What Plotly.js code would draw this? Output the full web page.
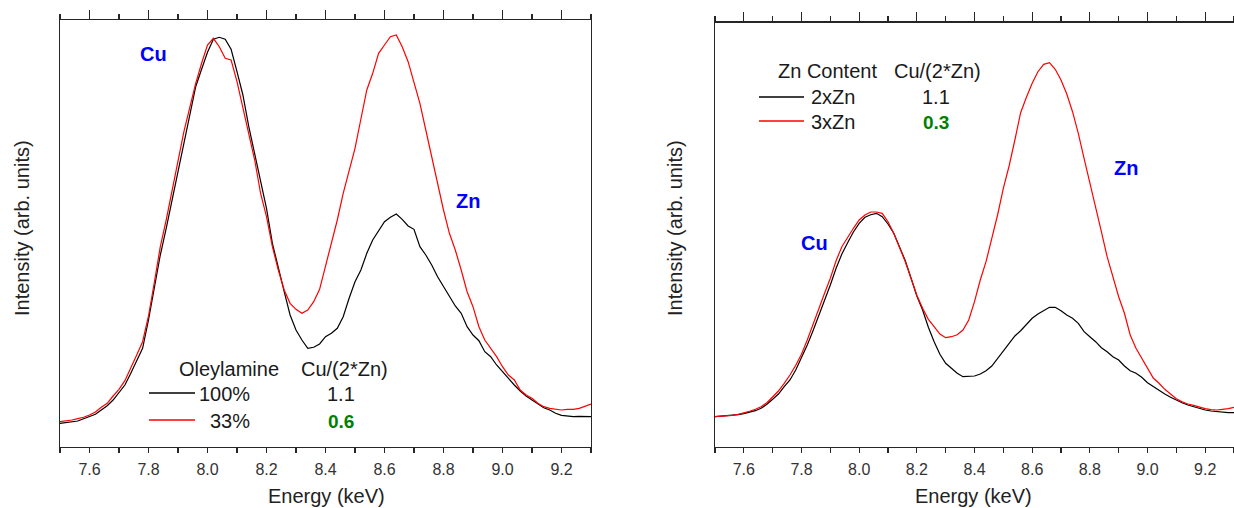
<!DOCTYPE html>
<html><head><meta charset="utf-8">
<script src="https://cdn.plot.ly/plotly-3.0.1.min.js"></script>
<style>html,body{margin:0;padding:0;background:#fff}#chart{width:1234px;height:508px}</style>
</head><body><div id="chart"></div>
<script>
// Energy grid (keV)
const energy = [7.50,7.52,7.54,7.56,7.58,7.60,7.62,7.64,7.66,7.68,
7.70,7.72,7.74,7.76,7.78,7.80,7.82,7.84,7.86,7.88,
7.90,7.92,7.94,7.96,7.98,8.00,8.02,8.04,8.06,8.08,
8.10,8.12,8.14,8.16,8.18,8.20,8.22,8.24,8.26,8.28,
8.30,8.32,8.34,8.36,8.38,8.40,8.42,8.44,8.46,8.48,
8.50,8.52,8.54,8.56,8.58,8.60,8.62,8.64,8.66,8.68,
8.70,8.72,8.74,8.76,8.78,8.80,8.82,8.84,8.86,8.88,
8.90,8.92,8.94,8.96,8.98,9.00,9.02,9.04,9.06,9.08,
9.10,9.12,9.14,9.16,9.18,9.20,9.22,9.24,9.26,9.28,9.30];

// Left panel: Oleylamine 100% (black) and 33% (red)
const oley100 = [23.7,24.3,25.0,26.0,28.3,30.3,32.7,37.0,41.3,47.0,
54.3,62.0,73.7,87.0,98.7,127.0,160.0,192.0,218.7,247.0,
277.0,307.0,335.3,360.3,377.7,394.7,407.7,409.7,407.7,397.7,
375.3,352.0,320.3,293.7,265.3,238.7,203.7,178.7,155.3,132.0,
117.0,107.0,98.7,99.7,103.0,110.3,113.7,118.7,130.3,148.7,
165.3,177.0,193.7,207.0,216.3,225.3,229.7,233.0,227.7,221.0,
217.7,200.3,192.0,182.0,170.3,160.3,149.7,141.0,133.7,120.3,
112.0,106.3,95.3,90.3,82.0,75.3,67.7,62.0,56.0,51.0,
47.0,43.0,39.3,37.0,33.7,31.7,31.0,30.3,30.7,30.3,30.3];
const oley33 = [25.3,26.0,27.0,28.3,29.7,32.0,35.0,39.7,43.7,51.0,
57.7,66.3,78.7,92.0,105.3,131.0,165.0,200.3,227.0,257.0,
287.0,315.3,339.7,363.7,383.7,402.0,408.7,400.3,388.7,387.0,
365.3,338.7,312.0,287.0,253.7,230.3,200.3,177.0,157.0,143.7,
137.7,133.7,137.0,145.3,157.7,181.0,205.3,227.0,253.7,277.0,
298.7,328.0,357.0,373.7,393.7,402.0,410.3,412.0,400.3,385.3,
365.3,343.7,317.0,290.3,263.7,237.0,213.7,197.0,177.0,155.3,
140.3,120.3,107.0,98.7,90.3,80.3,72.0,67.0,57.0,52.0,
48.7,43.7,40.3,38.7,37.7,37.0,37.7,37.7,38.7,41.0,43.0];

// Right panel: Zn content 2xZn (black) and 3xZn (red)
const zn2x = [30.3,30.7,31.0,31.7,32.3,33.3,34.7,36.3,38.7,42.7,
47.7,53.0,60.3,67.0,77.0,89.0,102.0,116.3,131.3,146.3,
162.0,178.7,193.0,204.3,215.0,223.7,229.7,232.3,233.7,230.3,
223.0,213.7,200.3,186.3,168.7,151.0,137.0,119.7,105.3,92.7,
83.7,78.7,73.7,70.3,70.3,71.0,73.0,76.3,81.0,88.7,
96.3,104.3,111.0,116.3,123.0,128.7,133.0,136.3,139.7,139.7,
136.3,132.0,128.7,123.7,115.3,110.3,105.3,99.3,95.3,90.3,
87.0,81.0,76.3,73.7,69.7,64.3,60.3,56.3,53.0,49.7,
46.7,44.3,42.0,40.3,38.3,37.0,36.0,35.3,34.3,34.3,34.3];
const zn3x = [30.3,30.7,31.0,31.7,32.7,34.0,35.7,37.7,40.3,44.3,
50.3,56.0,63.7,72.0,81.7,92.7,107.0,123.0,138.0,153.7,
168.7,186.3,200.3,209.7,218.7,227.0,232.0,235.0,235.0,233.7,
225.3,213.7,199.7,185.3,168.7,151.7,138.7,127.7,120.3,113.0,
109.3,110.3,112.3,117.0,127.0,145.3,167.0,185.3,208.7,232.0,
258.7,281.0,307.0,334.3,349.7,363.7,375.3,382.7,384.3,377.7,
367.0,353.0,335.3,313.7,288.7,265.3,240.3,215.3,190.3,171.0,
150.3,133.7,112.0,98.7,88.7,77.7,69.0,63.7,57.7,53.0,
48.3,45.3,43.0,41.7,39.7,38.3,37.3,37.0,37.7,38.3,39.7];

// Legend / label texts
const xTitle = 'Energy (keV)';
const yTitle = 'Intensity (arb. units)';
const leftHeader = ['Oleylamine', 'Cu/(2*Zn)'];
const leftRows = ['100%', '33%'];
const leftRatios = ['1.1', '0.6'];
const rightHeader = ['Zn Content', 'Cu/(2*Zn)'];
const rightRows = ['2xZn', '3xZn'];
const rightRatios = ['1.1', '0.3'];

const W = 1234, H = 508;
const px = x => x / W, py = y => 1 - y / H;
const FONT = '"Liberation Sans", Arial, sans-serif';
const AX = '#262626';
const BLACK = '#000000', RED = '#ff0000', BLUE = '#0000ff', GREEN = '#008000';

function bottomAxis(domain, anchor) {
  return {domain, anchor, range: [7.5, 9.3], tick0: 7.6, dtick: 0.2, tickformat: '.1f',
    ticks: 'outside', ticklen: 5, tickwidth: 1.3, tickcolor: AX, ticklabelstandoff: 2,
    showline: true, linecolor: AX, linewidth: 1.3, showgrid: false, zeroline: false,
    minor: {ticks: 'outside', dtick: 0.1, tick0: 7.5, ticklen: 5, tickwidth: 1.3, tickcolor: AX, showgrid: false},
    tickfont: {family: FONT, size: 16, color: '#333'},
    automargin: false, fixedrange: true};
}
function topAxis(over, anchor) {
  return {overlaying: over, side: 'top', anchor, range: [7.5, 9.3], tick0: 7.6, dtick: 0.2,
    ticks: 'outside', ticklen: 9, tickwidth: 1.3, tickcolor: AX, showticklabels: false,
    showline: true, linecolor: AX, linewidth: 1.3, showgrid: false, zeroline: false,
    minor: {ticks: 'outside', dtick: 0.1, tick0: 7.5, ticklen: 5, tickwidth: 1.3, tickcolor: AX, showgrid: false},
    automargin: false, fixedrange: true};
}
function leftAxis(domain, anchor, top) {
  return {domain, anchor, range: [0, top], showticklabels: false, ticks: '',
    showline: true, mirror: true, linecolor: AX, linewidth: 1.3, showgrid: false, zeroline: false,
    automargin: false, fixedrange: true};
}

const traces = [
  {x: energy, y: oley100, xaxis: 'x', yaxis: 'y', mode: 'lines', line: {color: BLACK, width: 1.2}, name: leftRows[0]},
  {x: energy, y: oley33, xaxis: 'x', yaxis: 'y', mode: 'lines', line: {color: RED, width: 1.2}, name: leftRows[1]},
  {x: energy, y: zn2x, xaxis: 'x2', yaxis: 'y2', mode: 'lines', line: {color: BLACK, width: 1.2}, name: rightRows[0]},
  {x: energy, y: zn3x, xaxis: 'x2', yaxis: 'y2', mode: 'lines', line: {color: RED, width: 1.2}, name: rightRows[1]},
  {x: [], y: [], xaxis: 'x3', yaxis: 'y', mode: 'lines', hoverinfo: 'skip'},
  {x: [], y: [], xaxis: 'x4', yaxis: 'y2', mode: 'lines', hoverinfo: 'skip'}
];

const yBot = py(447);
function txt(x, y, text, opts = {}) {
  return Object.assign({xref: 'paper', yref: 'paper', x: px(x), y: py(y), text, showarrow: false,
    xanchor: 'center', yanchor: 'middle', font: {family: FONT, size: 20, color: '#1a1a1a'}}, opts);
}
const bold = (c) => ({family: FONT, size: 20, color: c, weight: 'bold'});
const titleFont = {family: FONT, size: 20, color: '#222'};

const annotations = [
  // axis titles
  txt(326, 496, xTitle, {font: titleFont}),
  txt(974, 496, xTitle, {font: titleFont}),
  txt(22, 228, yTitle, {font: titleFont, textangle: -90}),
  txt(675, 228, yTitle, {font: titleFont, textangle: -90}),
  // peak labels and legends
  txt(153, 54, '<b>Cu</b>', {font: bold(BLUE)}),
  txt(468, 201, '<b>Zn</b>', {font: bold(BLUE)}),
  txt(229, 369, leftHeader[0]),
  txt(344, 369, leftHeader[1]),
  txt(252, 394, leftRows[0], {xanchor: 'right'}),
  txt(252, 421, leftRows[1], {xanchor: 'right'}),
  txt(341, 394, leftRatios[0]),
  txt(341, 421, '<b>' + leftRatios[1] + '</b>', {font: {family: FONT, size: 19, color: GREEN}}),
  txt(814, 243, '<b>Cu</b>', {font: bold(BLUE)}),
  txt(1126, 168, '<b>Zn</b>', {font: bold(BLUE)}),
  txt(827, 71, rightHeader[0]),
  txt(937, 71, rightHeader[1]),
  txt(809, 97, rightRows[0], {xanchor: 'left'}),
  txt(809, 122, rightRows[1], {xanchor: 'left'}),
  txt(936, 97, rightRatios[0]),
  txt(936, 122, '<b>' + rightRatios[1] + '</b>', {font: {family: FONT, size: 19, color: GREEN}})
];
function seg(x0, x1, y, c) {
  return {type: 'line', xref: 'paper', yref: 'paper', x0: px(x0), x1: px(x1), y0: py(y), y1: py(y), line: {color: c, width: 1.3}};
}
const shapes = [seg(149, 195, 393, BLACK), seg(149, 195, 420, RED), seg(759, 804, 97, BLACK), seg(759, 804, 121, RED)];

const layout = {
  width: W, height: H, margin: {l: 0, r: 0, t: 0, b: 0}, showlegend: false,
  paper_bgcolor: '#fff', plot_bgcolor: '#fff', font: {family: FONT},
  xaxis: bottomAxis([px(60), px(591)], 'y'),
  yaxis: leftAxis([yBot, py(20)], 'x', 427),
  xaxis2: bottomAxis([px(715), 1], 'y2'),
  yaxis2: leftAxis([yBot, py(22.5)], 'x2', 424.5),
  xaxis3: topAxis('x', 'y'),
  xaxis4: topAxis('x2', 'y2'),
  annotations, shapes
};
Plotly.newPlot('chart', traces, layout, {displayModeBar: false, staticPlot: true});
</script></body></html>
